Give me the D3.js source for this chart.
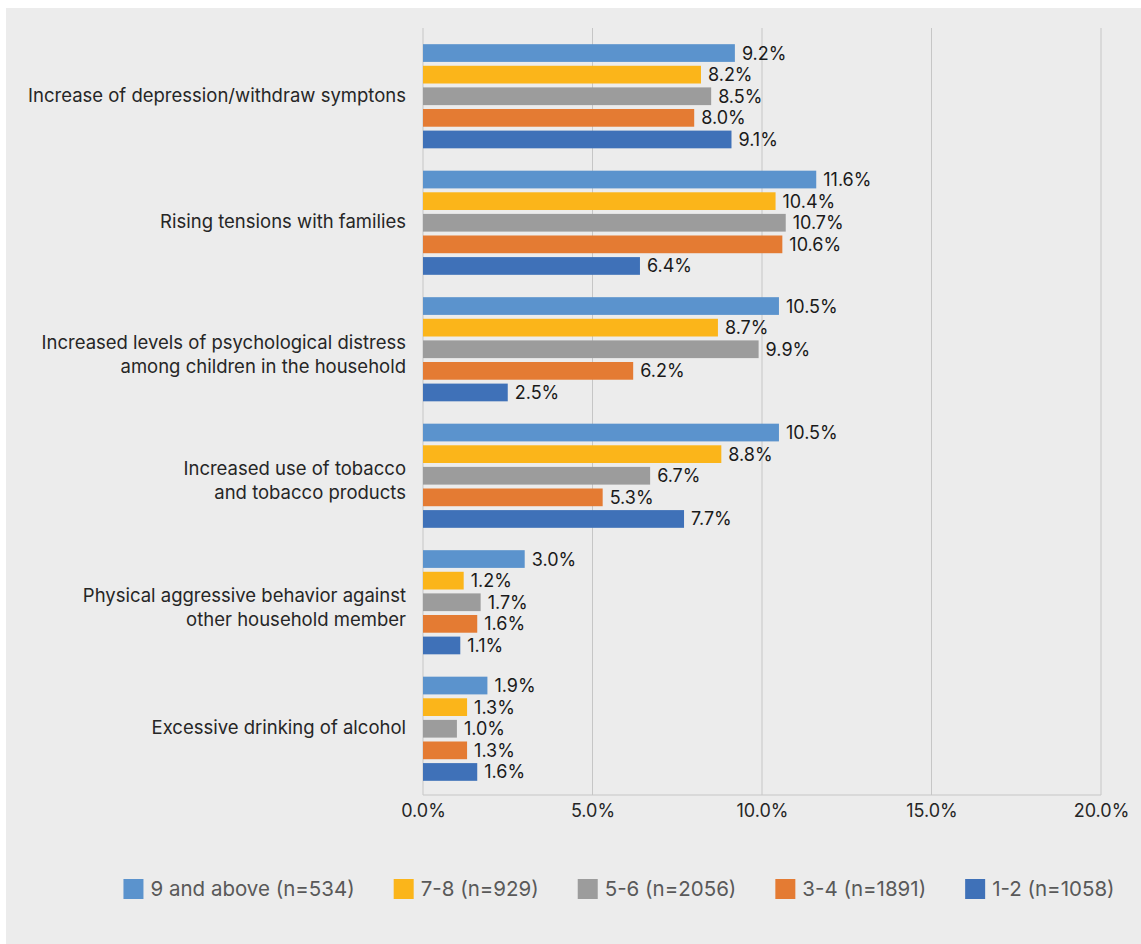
<!DOCTYPE html>
<html>
<head>
<meta charset="utf-8">
<script src="https://cdn.jsdelivr.net/npm/d3@7"></script>
<style>
  html, body { margin: 0; padding: 0; background: #ffffff; }
  svg { display: block; }
  text { font-family: Inter, "Noto Sans", sans-serif; }
</style>
</head>
<body>
<svg id="chart" width="1141" height="944"></svg>
<script>
// Household-size groups and their sample sizes
const seriesNames = ["9 and above (n=534)", "7-8 (n=929)", "5-6 (n=2056)", "3-4 (n=1891)", "1-2 (n=1058)"];
const seriesColors = ["#5b93cd", "#fbb51a", "#9c9c9c", "#e47b33", "#3f71b8"];

// Reported changes in household behaviour (lines split on "|")
const categories = [
  "Increase of depression/withdraw symptons",
  "Rising tensions with families",
  "Increased levels of psychological distress|among children in the household",
  "Increased use of tobacco|and tobacco products",
  "Physical aggressive behavior against|other household member",
  "Excessive drinking of alcohol"
];

// Percent of respondents, one array per household size
const s9plus = [9.2, 11.6, 10.5, 10.5, 3.0, 1.9];
const s7to8  = [8.2, 10.4, 8.7, 8.8, 1.2, 1.3];
const s5to6  = [8.5, 10.7, 9.9, 6.7, 1.7, 1.0];
const s3to4  = [8.0, 10.6, 6.2, 5.3, 1.6, 1.3];
const s1to2  = [9.1, 6.4, 2.5, 7.7, 1.1, 1.6];
const seriesValues = [s9plus, s7to8, s5to6, s3to4, s1to2];

const xTicks = [0, 5, 10, 15, 20];

const svg = d3.select("#chart");

// panel background
svg.append("rect")
  .attr("x", 6).attr("y", 8)
  .attr("width", 1141 - 6).attr("height", 944 - 8)
  .attr("fill", "#ececec");

const plotLeft = 423, plotRight = 1101, plotTop = 28, plotBottom = 795;

const x = d3.scaleLinear().domain([0, 20]).range([plotLeft, plotRight]);

const y0 = d3.scaleBand()
  .domain(categories)
  .range([33, 792])
  .paddingInner(0.146)
  .paddingOuter(0.073);

const y1 = d3.scaleBand()
  .domain(seriesNames)
  .range([0, y0.bandwidth()])
  .paddingInner(0.18)
  .paddingOuter(0.09);

// vertical gridlines
svg.append("g")
  .selectAll("line")
  .data(xTicks)
  .join("line")
  .attr("x1", d => x(d)).attr("x2", d => x(d))
  .attr("y1", plotTop).attr("y2", plotBottom)
  .attr("stroke", "#c6c6c6")
  .attr("stroke-width", 1);

// bottom axis line
svg.append("line")
  .attr("x1", plotLeft).attr("x2", plotRight)
  .attr("y1", plotBottom).attr("y2", plotBottom)
  .attr("stroke", "#c6c6c6");

// x tick labels
const xAxis = d3.axisBottom(x)
  .tickValues(xTicks)
  .tickSize(0)
  .tickPadding(0)
  .tickFormat(d => d.toFixed(1) + "%");
const xg = svg.append("g")
  .attr("transform", `translate(0,${plotBottom})`)
  .call(xAxis);
xg.select(".domain").remove();
xg.selectAll("text")
  .attr("y", 22)
  .attr("dy", "0")
  .attr("font-size", 18)
  .attr("fill", "#262626");

// bars and value labels
const groups = svg.append("g")
  .selectAll("g")
  .data(categories.map((c, i) => ({ c, i })))
  .join("g")
  .attr("transform", d => `translate(0,${y0(d.c)})`);

groups.selectAll("rect")
  .data(d => seriesNames.map((s, k) => ({ s, k, v: seriesValues[k][d.i] })))
  .join("rect")
  .attr("x", x(0))
  .attr("y", d => y1(d.s))
  .attr("width", d => x(d.v) - x(0))
  .attr("height", y1.bandwidth())
  .attr("fill", d => seriesColors[d.k]);

groups.selectAll("text.val")
  .data(d => seriesNames.map((s, k) => ({ s, k, v: seriesValues[k][d.i] })))
  .join("text")
  .attr("class", "val")
  .attr("x", d => x(d.v) + 7)
  .attr("y", d => y1(d.s) + y1.bandwidth() / 2)
  .attr("dy", "0.36em")
  .attr("font-size", 18)
  .attr("fill", "#1a1a1a")
  .text(d => d.v.toFixed(1) + "%");

// category labels
const catLabels = svg.append("g")
  .selectAll("text")
  .data(categories)
  .join("text")
  .attr("text-anchor", "end")
  .attr("font-size", 18.5)
  .attr("fill", "#262626")
  .attr("transform", d => `translate(406,${y0(d) + y0.bandwidth() / 2})`);

catLabels.each(function (d) {
  const lines = d.split("|");
  const t = d3.select(this);
  const lh = 24;
  const shift = lines.length > 1 ? 5 : -1;
  lines.forEach((ln, j) => {
    t.append("tspan")
      .attr("x", 0)
      .attr("y", (j - (lines.length - 1) / 2) * lh + shift)
      .attr("dy", "0.36em")
      .text(ln);
  });
});

// legend
const legend = svg.append("g").attr("transform", "translate(0,889)");
const items = legend.selectAll("g")
  .data(seriesNames)
  .join("g");
items.append("rect")
  .attr("x", 0).attr("y", -10)
  .attr("width", 20).attr("height", 20)
  .attr("fill", (d, i) => seriesColors[i]);
items.append("text")
  .attr("x", 27)
  .attr("dy", "0.36em")
  .attr("font-size", 20.5)
  .attr("fill", "#595959")
  .text(d => d);

const legendGap = 39;
let cx = 0;
const offsets = [];
items.each(function () {
  const w = 27 + d3.select(this).select("text").node().getComputedTextLength();
  offsets.push(cx);
  cx += w + legendGap;
});
const total = cx - legendGap;
const startX = 619 - total / 2;
items.attr("transform", (d, i) => `translate(${startX + offsets[i]},0)`);
</script>
</body>
</html>
